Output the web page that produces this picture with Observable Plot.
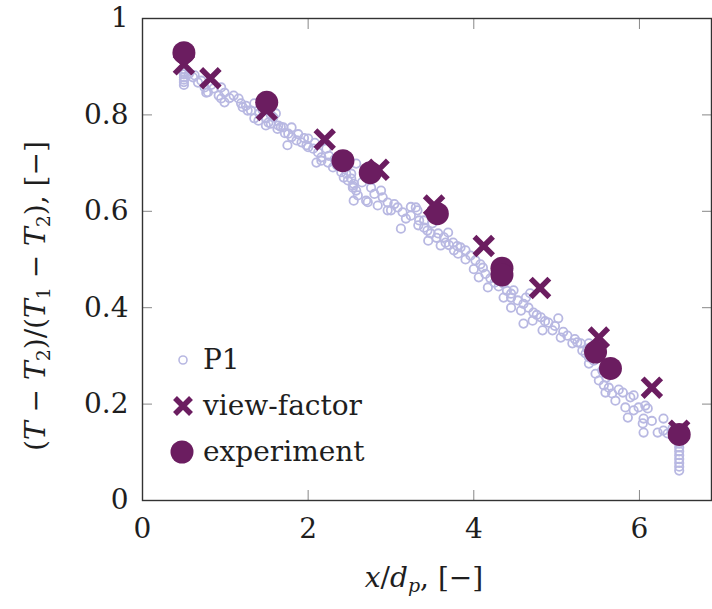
<!DOCTYPE html>
<html><head><meta charset="utf-8">
<script src="https://cdn.jsdelivr.net/npm/d3@7"></script>
<script src="https://cdn.jsdelivr.net/npm/@observablehq/plot@0.6"></script>
<style>
body{margin:0;background:#fff;}
#wrap{position:relative;width:712px;height:609px;overflow:hidden;font-family:"DejaVu Serif",serif;color:#1e1e1e;}
.lbl{position:absolute;white-space:nowrap;font-size:28px;line-height:1;}
.lbl sub{font-size:19px;vertical-align:-5px;line-height:0;}
.leg{position:absolute;left:168px;width:200px;height:40px;}
</style></head><body><div id="wrap"></div>
<script>
const xTicks = [0, 2, 4, 6];
const yTicks = [0, 0.2, 0.4, 0.6, 0.8, 1];
const legendItems = ["P1", "view-factor", "experiment"];

// P1 (small open circles) [x/dp, (T-T2)/(T1-T2)]
const p1 = [
  [0.5,0.862],[0.5,0.868],[0.5,0.873],[0.5,0.878],[0.5,0.884],[0.5,0.889],[0.5,0.895],
  [0.56,0.885],[0.61,0.878],[0.63,0.882],[0.67,0.867],[0.71,0.871],[0.75,0.857],[0.77,0.846],[0.79,0.847],
  [0.83,0.862],[0.86,0.855],[0.92,0.84],[0.95,0.834],[0.95,0.857],[0.99,0.846],[0.99,0.826],
  [1.05,0.835],[1.10,0.84],[1.16,0.834],[1.19,0.824],[1.21,0.816],[1.25,0.819],[1.27,0.809],[1.31,0.809],
  [1.35,0.824],[1.35,0.793],[1.40,0.788],[1.41,0.803],[1.45,0.81],[1.49,0.793],[1.49,0.778],
  [1.52,0.784],[1.55,0.782],[1.55,0.80],[1.58,0.795],[1.61,0.803],[1.63,0.771],[1.64,0.778],
  [1.67,0.775],[1.70,0.774],[1.72,0.762],[1.75,0.737],[1.76,0.761],[1.80,0.774],[1.80,0.754],[1.86,0.747],
  [1.88,0.760],[1.92,0.743],[1.95,0.752],[1.98,0.737],[2.0,0.751],[2.0,0.733],[2.06,0.730],[2.08,0.742],[2.10,0.701],[2.12,0.722],
  [2.16,0.712],[2.16,0.705],[2.22,0.730],[2.24,0.701],[2.25,0.715],[2.30,0.691],[2.32,0.708],[2.35,0.695],
  [2.40,0.681],[2.43,0.67],[2.46,0.678],[2.48,0.664],[2.52,0.678],[2.52,0.668],[2.54,0.653],
  [2.54,0.649],[2.55,0.657],[2.55,0.622],[2.58,0.699],[2.58,0.643],[2.60,0.633],[2.65,0.66],[2.70,0.622],
  [2.72,0.619],[2.76,0.649],[2.80,0.636],[2.84,0.612],[2.88,0.643],[2.90,0.629],[2.96,0.618],
  [2.96,0.602],[3.0,0.602],[3.04,0.615],[3.08,0.608],[3.12,0.564],[3.14,0.598],[3.18,0.585],[3.24,0.591],[3.24,0.609],
  [3.30,0.608],[3.32,0.602],[3.33,0.571],[3.34,0.581],[3.40,0.566],[3.40,0.581],[3.44,0.560],
  [3.45,0.539],[3.48,0.554],[3.50,0.575],[3.55,0.545],[3.57,0.554],[3.60,0.529],[3.64,0.546],
  [3.66,0.535],[3.69,0.556],[3.70,0.53],[3.75,0.535],[3.76,0.519],[3.80,0.528],[3.81,0.512],[3.84,0.525],[3.90,0.519],
  [3.90,0.50],[3.96,0.508],[4.0,0.48],[4.02,0.498],[4.06,0.463],[4.08,0.49],[4.11,0.483],[4.14,0.47],[4.17,0.442],
  [4.20,0.461],[4.25,0.452],[4.30,0.444],[4.36,0.450],[4.36,0.421],[4.40,0.435],[4.45,0.421],[4.45,0.429],
  [4.45,0.400],[4.48,0.436],[4.53,0.415],[4.57,0.394],[4.60,0.408],[4.60,0.367],[4.63,0.421],
  [4.68,0.43],[4.66,0.400],[4.71,0.373],[4.72,0.390],[4.76,0.385],[4.81,0.380],[4.83,0.353],[4.86,0.372],[4.90,0.369],
  [4.95,0.353],[4.98,0.362],[5.02,0.378],[5.05,0.338],[5.08,0.35],[5.13,0.342],[5.19,0.326],[5.22,0.335],[5.25,0.328],[5.29,0.326],
  [5.31,0.311],[5.35,0.305],[5.37,0.315],[5.39,0.297],[5.39,0.284],[5.39,0.326],[5.45,0.29],
  [5.47,0.263],[5.51,0.249],[5.55,0.27],[5.57,0.239],[5.59,0.224],[5.60,0.255],[5.63,0.234],
  [5.67,0.222],[5.71,0.207],[5.75,0.23],[5.80,0.224],[5.83,0.193],[5.86,0.172],[5.89,0.214],
  [5.93,0.187],[5.93,0.218],[5.99,0.193],[6.04,0.160],[6.05,0.170],[6.05,0.141],[6.07,0.197],
  [6.10,0.191],[6.15,0.165],[6.22,0.141],[6.29,0.170],[6.29,0.145],[6.34,0.139],[6.40,0.15],
  [6.48,0.062],[6.48,0.07],[6.48,0.078],[6.48,0.086],[6.48,0.094],[6.48,0.102],[6.48,0.11],[6.48,0.118],[6.48,0.126]
];

// view-factor (X markers)
const viewFactor = [
  [0.5,0.905],[0.82,0.876],[1.5,0.81],[2.2,0.749],[2.85,0.686],[3.52,0.612],
  [4.12,0.528],[4.8,0.441],[5.51,0.338],[6.15,0.234],[6.48,0.145]
];

// experiment (large filled circles)
const experiment = [
  [0.5,0.929],[1.5,0.826],[2.42,0.705],[2.75,0.68],[3.56,0.595],[4.34,0.482],[4.34,0.468],
  [5.47,0.308],[5.65,0.274],[6.48,0.137]
];

const purple = "#6b1d60";
const lavender = "#b8b8e2";

const chart = Plot.plot({
  width: 712, height: 609,
  marginLeft: 142, marginRight: 1, marginTop: 18, marginBottom: 109,
  x: {domain: [0, 6.87], axis: null},
  y: {domain: [0, 1], axis: null},
  style: {fontFamily: "DejaVu Serif", fontSize: "28px", background: "white", color: "#1e1e1e"},
  marks: [
    Plot.dot(p1, {x: d => d[0], y: d => d[1], r: 4.2, stroke: lavender, strokeWidth: 1.8, fill: "none"}),
    Plot.dot(viewFactor, {x: d => d[0], y: d => d[1], symbol: "times", r: 8.5, stroke: purple, strokeWidth: 5.5}),
    Plot.dot(experiment, {x: d => d[0], y: d => d[1], r: 11.5, fill: purple}),
    Plot.axisX(xTicks, {anchor: "bottom", tickSize: -10, tickPadding: 28, stroke: "#888", fill: "#1e1e1e", tickFormat: d => String(d)}),
    Plot.axisX(xTicks, {anchor: "top", tickSize: -10, stroke: "#888", fill: "none"}),
    Plot.axisY(yTicks, {anchor: "left", tickSize: -10, tickPadding: 24, stroke: "#888", fill: "#1e1e1e", tickFormat: d => String(d)}),
    Plot.axisY(yTicks, {anchor: "right", tickSize: -10, stroke: "#888", fill: "none"}),
    Plot.frame({stroke: "#333", strokeWidth: 1.4})
  ]
});
const wrap = document.getElementById("wrap");
wrap.appendChild(chart);

// axis titles
const yl = document.createElement("div");
yl.className = "lbl";
yl.innerHTML = "(<i>T</i> − <i>T</i><sub>2</sub>)/(<i>T</i><sub>1</sub> − <i>T</i><sub>2</sub>), [−]";
yl.style.left = "36px"; yl.style.top = "296px";
yl.style.transform = "translate(-50%,-50%) rotate(-90deg)";
wrap.appendChild(yl);

const xl = document.createElement("div");
xl.className = "lbl";
xl.innerHTML = "<i>x</i>/<i>d</i><sub><i>p</i></sub>, [−]";
xl.style.left = "424px"; xl.style.top = "578px";
xl.style.transform = "translate(-50%,-50%)";
wrap.appendChild(xl);

// legend
const legTops = [338, 384, 430];
const symbols = [
  `<circle cx="15" cy="22" r="4" fill="none" stroke="${lavender}" stroke-width="1.6"/>`,
  `<path d="M7,14L23,30M23,14L7,30" stroke="${purple}" stroke-width="5.5"/>`,
  `<circle cx="14" cy="22" r="11.5" fill="${purple}"/>`
];
legendItems.forEach((name, i) => {
  const d = document.createElement("div");
  d.className = "leg";
  d.style.top = legTops[i] + "px";
  d.innerHTML = `<svg width="30" height="44" style="position:absolute;left:0;top:0">${symbols[i]}</svg>` +
    `<span class="lbl" style="left:35px;top:8px">${name}</span>`;
  wrap.appendChild(d);
});
</script></body></html>
